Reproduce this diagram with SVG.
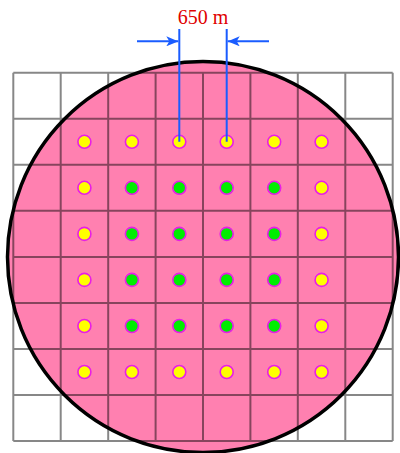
<svg xmlns="http://www.w3.org/2000/svg" width="400" height="453" viewBox="0 0 400 453">
<style>
.grid{stroke:#000;stroke-opacity:0.47;stroke-width:2;fill:none}
.y{fill:#ffff00;stroke:#e81ee8;stroke-width:1.6}
.g{fill:#00ee00;stroke:#e81ee8;stroke-width:1.6}
.dim{stroke:#1a5cff;stroke-width:2;fill:none}
</style>
<defs>
<marker id="ah" viewBox="0 0 12 10" refX="12" refY="5" markerWidth="12" markerHeight="10" markerUnits="userSpaceOnUse" orient="auto">
<path d="M0,0 L12,5 L0,10 L3,5 Z" fill="#1a5cff"/>
</marker>
</defs>
<rect width="400" height="453" fill="#fff"/>
<g id="site">
<circle cx="203" cy="257" r="195.5" fill="#ff80b0" stroke="none"/>
</g>
<g id="grid">
<path class="grid" d="M13.3,72.7V441 M60.7,72.7V441 M108.2,72.7V441 M155.6,72.7V441 M203,72.7V441 M250.4,72.7V441 M297.8,72.7V441 M345.3,72.7V441 M392.7,72.7V441 M13.3,72.7H392.7 M13.3,118.7H392.7 M13.3,164.8H392.7 M13.3,210.8H392.7 M13.3,256.9H392.7 M13.3,302.9H392.7 M13.3,348.9H392.7 M13.3,395H392.7 M13.3,441H392.7"/>
</g>
<g id="boundary">
<circle cx="203" cy="257" r="195.5" fill="none" stroke="#000" stroke-width="3.5"/>
</g>
<g id="wells">
<circle class="y" cx="84.4" cy="141.8" r="6.5"/><circle class="y" cx="131.9" cy="141.8" r="6.5"/><circle class="y" cx="179.3" cy="141.8" r="6.5"/><circle class="y" cx="226.7" cy="141.8" r="6.5"/><circle class="y" cx="274.2" cy="141.8" r="6.5"/><circle class="y" cx="321.6" cy="141.8" r="6.5"/>
<circle class="y" cx="84.4" cy="187.8" r="6.5"/><circle class="g" cx="131.9" cy="187.8" r="6.5"/><circle class="g" cx="179.3" cy="187.8" r="6.5"/><circle class="g" cx="226.7" cy="187.8" r="6.5"/><circle class="g" cx="274.2" cy="187.8" r="6.5"/><circle class="y" cx="321.6" cy="187.8" r="6.5"/>
<circle class="y" cx="84.4" cy="233.9" r="6.5"/><circle class="g" cx="131.9" cy="233.9" r="6.5"/><circle class="g" cx="179.3" cy="233.9" r="6.5"/><circle class="g" cx="226.7" cy="233.9" r="6.5"/><circle class="g" cx="274.2" cy="233.9" r="6.5"/><circle class="y" cx="321.6" cy="233.9" r="6.5"/>
<circle class="y" cx="84.4" cy="279.9" r="6.5"/><circle class="g" cx="131.9" cy="279.9" r="6.5"/><circle class="g" cx="179.3" cy="279.9" r="6.5"/><circle class="g" cx="226.7" cy="279.9" r="6.5"/><circle class="g" cx="274.2" cy="279.9" r="6.5"/><circle class="y" cx="321.6" cy="279.9" r="6.5"/>
<circle class="y" cx="84.4" cy="326" r="6.5"/><circle class="g" cx="131.9" cy="326" r="6.5"/><circle class="g" cx="179.3" cy="326" r="6.5"/><circle class="g" cx="226.7" cy="326" r="6.5"/><circle class="g" cx="274.2" cy="326" r="6.5"/><circle class="y" cx="321.6" cy="326" r="6.5"/>
<circle class="y" cx="84.4" cy="372" r="6.5"/><circle class="y" cx="131.9" cy="372" r="6.5"/><circle class="y" cx="179.3" cy="372" r="6.5"/><circle class="y" cx="226.7" cy="372" r="6.5"/><circle class="y" cx="274.2" cy="372" r="6.5"/><circle class="y" cx="321.6" cy="372" r="6.5"/>
</g>
<g id="dimension">
<path class="dim" d="M179.3,29V141.8 M226.7,29V141.8"/>
<path class="dim" d="M137,41.3H178.3" marker-end="url(#ah)"/>
<path class="dim" d="M269,41.3H227.7" marker-end="url(#ah)"/>
<text x="203" y="24.3" text-anchor="middle" font-family="Liberation Serif, serif" font-size="20" fill="#e00000">650 m</text>
</g>
</svg>
